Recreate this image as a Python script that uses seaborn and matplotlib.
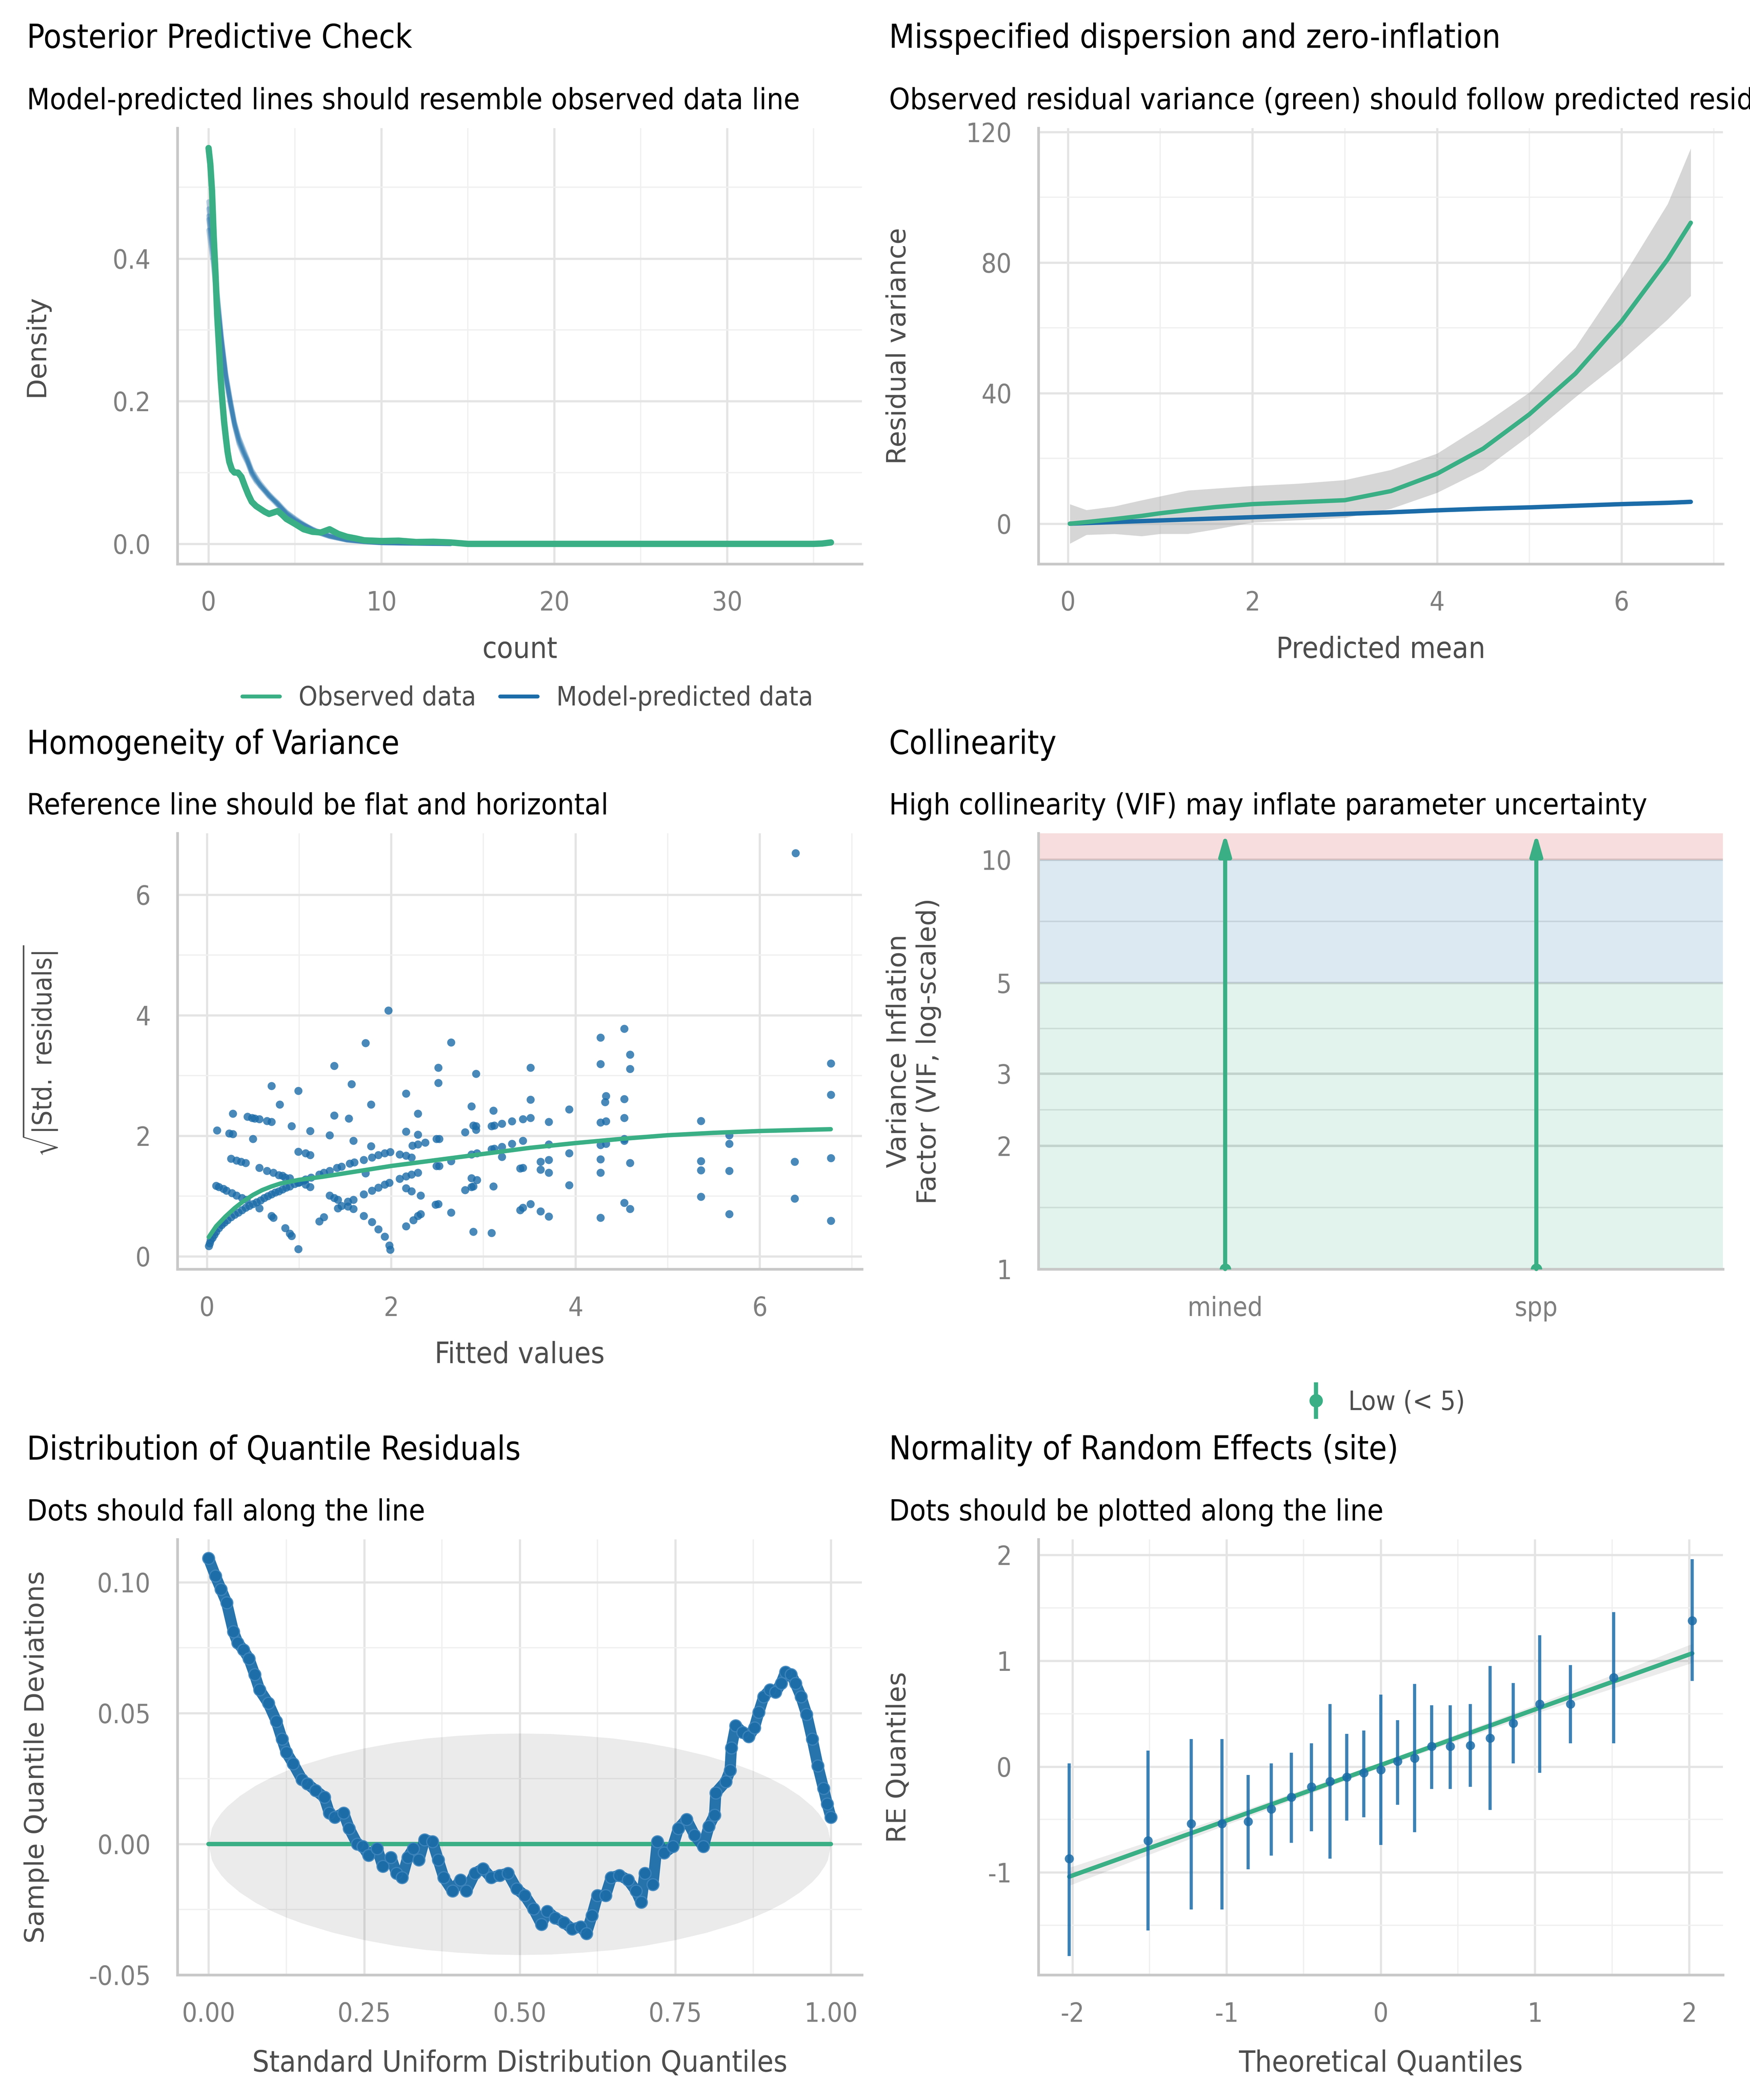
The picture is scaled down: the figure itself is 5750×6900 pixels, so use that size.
import numpy as np
import pandas as pd
import matplotlib
matplotlib.use("Agg")
import matplotlib.pyplot as plt
from matplotlib.lines import Line2D
from matplotlib.legend_handler import HandlerTuple
from matplotlib.ticker import NullFormatter
import seaborn as sns

green = "#3aaf85"
blue = "#1b6ca8"
red = "#cd201f"

# ---- posterior predictive check ----
obs_x = [0, 0.1, 0.2, 0.3, 0.4, 0.5, 0.6, 0.7, 0.8, 0.9, 1.0, 1.1, 1.2, 1.35, 1.5, 1.7, 1.9,
         2.1, 2.3, 2.5, 2.75, 3.0, 3.25, 3.5, 3.75, 4.0, 4.25, 4.5, 5.0, 5.5, 6.0, 6.5, 7.0,
         7.5, 8.0, 8.5, 9.0, 10, 11, 12, 13, 14, 15, 20, 25, 30, 35, 35.5, 36]
obs_dens = [0.555, 0.533, 0.495, 0.43, 0.38, 0.32, 0.277, 0.232, 0.2, 0.171, 0.149, 0.129,
            0.115, 0.104, 0.1, 0.1, 0.094, 0.081, 0.069, 0.059, 0.053, 0.049, 0.045, 0.042,
            0.044, 0.046, 0.041, 0.035, 0.028, 0.0205, 0.017, 0.016, 0.0205, 0.014, 0.010,
            0.0077, 0.005, 0.004, 0.0045, 0.0026, 0.003, 0.002, 0.0, 0.0, 0.0, 0.0, 0.0,
            0.0005, 0.002]
sim_x = [0, 0.25, 0.5, 0.75, 1, 1.25, 1.5, 1.75, 2, 2.25, 2.5, 2.75, 3, 3.5, 4, 4.5, 5, 5.5,
         6, 6.5, 7, 7.5, 8, 9, 10, 11, 12, 13, 14]
sim_a = [0.46, 0.41, 0.345, 0.285, 0.235, 0.2, 0.168, 0.145, 0.13, 0.118, 0.1, 0.09, 0.083,
         0.068, 0.056, 0.043, 0.034, 0.027, 0.02, 0.015, 0.011, 0.008, 0.0055, 0.003, 0.0015,
         0.001, 0.0008, 0.0004, 0.0001]
sim_b = [0.48, 0.43, 0.355, 0.29, 0.24, 0.205, 0.172, 0.15, 0.135, 0.12, 0.104, 0.094, 0.085,
         0.07, 0.058, 0.045, 0.036, 0.028, 0.021, 0.016, 0.012, 0.009, 0.006, 0.0035, 0.002,
         0.0012, 0.0009, 0.0005, 0.0002]
sim_c = [0.44, 0.395, 0.335, 0.28, 0.23, 0.195, 0.165, 0.14, 0.125, 0.113, 0.097, 0.087, 0.08,
         0.066, 0.054, 0.041, 0.032, 0.026, 0.019, 0.014, 0.01, 0.0075, 0.005, 0.0028, 0.0013,
         0.0009, 0.0006, 0.0003, 0.0001]
sim_d = [0.47, 0.42, 0.35, 0.29, 0.238, 0.202, 0.17, 0.148, 0.132, 0.116, 0.102, 0.092, 0.081,
         0.069, 0.055, 0.044, 0.035, 0.026, 0.021, 0.015, 0.011, 0.0085, 0.0058, 0.0032,
         0.0016, 0.0011, 0.0007, 0.0004, 0.0001]
sim_e = [0.455, 0.405, 0.34, 0.283, 0.233, 0.198, 0.166, 0.143, 0.128, 0.115, 0.099, 0.089,
         0.082, 0.067, 0.057, 0.042, 0.033, 0.027, 0.02, 0.0145, 0.0105, 0.0078, 0.0052,
         0.003, 0.0014, 0.001, 0.0007, 0.0003, 0.0001]

# ---- dispersion ----
pm_x = [0.02, 0.2, 0.5, 0.8, 1.0, 1.3, 1.6, 2.0, 2.5, 3.0, 3.5, 4.0, 4.5, 5.0, 5.5, 6.0, 6.5, 6.75]
obs_var = [0.0, 0.5, 1.4, 2.4, 3.2, 4.2, 5.1, 6.0, 6.6, 7.2, 10.0, 15.3, 23.0, 33.5, 46.0, 62.0, 81.0, 92.2]
obs_hi = [6.0, 4.2, 5.3, 7.2, 8.4, 10.2, 10.8, 11.6, 12.3, 13.4, 16.5, 21.5, 30.4, 40.2, 54.0, 75.0, 98.0, 115.0]
obs_lo = [-6.1, -3.4, -3.1, -3.8, -3.1, -3.1, -1.7, 0.4, 1.1, 1.8, 4.6, 9.5, 16.5, 27.0, 38.8, 50.0, 62.6, 69.8]
pred_var = [0.0, 0.2, 0.5, 0.8, 1.0, 1.3, 1.6, 2.0, 2.5, 3.0, 3.5, 4.1, 4.6, 5.0, 5.5, 6.0, 6.4, 6.7]

# ---- homogeneity of variance ----
hov_fitted = [
    0.02, 0.03, 0.04, 0.06, 0.08, 0.10, 0.13, 0.16, 0.19, 0.22, 0.26, 0.30, 0.34, 0.38, 0.42,
    0.46, 0.50, 0.54, 0.58, 0.62, 0.66, 0.70, 0.74, 0.78, 0.82, 0.86, 0.90, 0.95, 1.00, 1.05,
    1.97, 1.72, 2.65, 1.38, 2.51, 2.92, 3.51, 2.51, 0.70, 0.99, 1.57, 0.79, 1.78, 2.16, 3.51,
    2.87, 3.11, 0.28,
    0.44, 0.49, 0.52, 0.57, 0.65, 0.70, 1.38, 1.54, 2.29, 3.43, 3.51, 3.31, 3.20, 3.09, 3.12,
    2.89, 2.92, 2.92, 2.80,
    0.92, 1.12, 0.11, 0.24, 0.28, 0.50, 1.33, 2.16, 2.29, 1.59, 2.49, 2.52, 2.37, 2.23, 2.29,
    1.78, 3.43, 3.31, 3.20, 3.09, 3.12, 2.87, 2.93,
    0.99, 1.07, 1.12, 1.99, 1.93, 1.86, 1.79, 1.70, 1.60, 1.55, 1.46, 1.41, 1.33, 1.27, 1.22,
    1.13, 1.07,
    2.09, 2.16, 2.22, 2.65, 3.20, 2.49, 2.52, 3.40, 3.43,
    0.26, 0.32, 0.37, 0.42, 0.57, 0.65, 0.72, 0.78, 0.82, 0.85, 0.90, 0.99, 1.07, 1.12, 1.72,
    2.09, 2.16, 2.22, 2.29, 1.98, 1.93, 1.86, 1.79, 1.70, 2.16, 2.22, 2.32, 2.87, 2.93, 2.87,
    2.89, 2.80, 3.11,
    0.10, 0.13, 0.18, 0.21, 0.27, 0.32, 0.38, 0.43, 0.57, 1.33, 1.38, 1.42, 1.53, 1.59, 1.46,
    1.42, 1.53, 1.59, 2.48, 2.51, 2.65, 3.40, 3.43, 3.51,
    0.70, 0.72, 1.22, 1.27, 1.70, 1.79, 1.86, 1.93, 1.98, 1.99, 2.16, 2.24, 2.29, 2.32, 0.85,
    0.90, 0.92, 0.99, 2.89, 3.09,
    4.53, 4.27, 4.59, 4.27, 4.59, 6.77, 6.77, 4.33, 4.32, 4.53, 3.93, 3.71, 4.27, 4.33, 4.53,
    5.36, 3.71, 4.27, 4.33, 4.53, 4.53, 5.67, 5.67, 3.93, 3.62, 3.71, 4.27, 4.59, 5.36, 5.36,
    5.67, 6.38, 6.77, 3.62, 3.71, 4.27, 3.93, 5.36, 6.38, 3.62, 3.71, 4.27, 4.53, 4.59, 5.67,
    6.77, 6.39]
hov_resid = [
    0.17, 0.22, 0.27, 0.31, 0.36, 0.41, 0.47, 0.52, 0.56, 0.60, 0.65, 0.69, 0.73, 0.77, 0.81,
    0.84, 0.87, 0.90, 0.93, 0.97, 1.00, 1.03, 1.06, 1.08, 1.11, 1.14, 1.16, 1.20, 1.23, 1.26,
    4.08, 3.54, 3.55, 3.16, 3.13, 3.03, 3.13, 2.88, 2.83, 2.75, 2.86, 2.52, 2.52, 2.70, 2.60,
    2.49, 2.42, 2.37,
    2.32, 2.30, 2.29, 2.28, 2.25, 2.23, 2.34, 2.29, 2.37, 2.28, 2.30, 2.24, 2.20, 2.16, 2.17,
    2.17, 2.16, 2.10, 2.06,
    2.16, 2.08, 2.09, 2.04, 2.03, 1.95, 2.01, 2.07, 2.02, 1.92, 1.95, 1.95, 1.89, 1.84, 1.86,
    1.83, 1.92, 1.87, 1.82, 1.78, 1.79, 1.69, 1.71,
    1.74, 1.71, 1.68, 1.73, 1.71, 1.68, 1.64, 1.60, 1.56, 1.54, 1.49, 1.47, 1.42, 1.39, 1.36,
    1.31, 1.28,
    1.69, 1.67, 1.64, 1.58, 1.65, 1.50, 1.50, 1.46, 1.47,
    1.62, 1.59, 1.57, 1.55, 1.47, 1.42, 1.39, 1.35, 1.34, 1.31, 1.30, 1.22, 1.19, 1.15, 1.38,
    1.29, 1.33, 1.36, 1.39, 1.22, 1.19, 1.14, 1.09, 1.03, 1.13, 1.08, 1.01, 1.30, 1.27, 1.15,
    1.16, 1.10, 1.16,
    1.17, 1.15, 1.12, 1.09, 1.05, 1.01, 0.97, 0.94, 0.80, 1.01, 0.97, 0.94, 0.91, 0.94, 0.84,
    0.80, 0.83, 0.79, 0.86, 0.87, 0.73, 0.77, 0.81, 0.87,
    0.67, 0.64, 0.58, 0.65, 0.67, 0.57, 0.45, 0.33, 0.18, 0.11, 0.50, 0.60, 0.67, 0.70, 0.47,
    0.38, 0.34, 0.12, 0.41, 0.39,
    3.78, 3.63, 3.35, 3.19, 3.11, 3.20, 2.68, 2.66, 2.56, 2.61, 2.44, 2.23, 2.22, 2.24, 2.30,
    2.25, 1.86, 1.85, 1.87, 1.95, 1.92, 2.01, 1.87, 1.71, 1.57, 1.60, 1.61, 1.55, 1.58, 1.43,
    1.42, 1.57, 1.63, 1.44, 1.39, 1.39, 1.18, 0.99, 0.96, 0.75, 0.66, 0.64, 0.89, 0.79, 0.70,
    0.59, 6.69]
smooth_x = [0.02, 0.1, 0.2, 0.3, 0.4, 0.5, 0.6, 0.7, 0.8, 0.9, 1.0, 1.25, 1.5, 1.75, 2.0, 2.5,
            3.0, 3.5, 4.0, 4.5, 5.0, 5.5, 6.0, 6.5, 6.77]
smooth_y = [0.32, 0.5, 0.66, 0.8, 0.92, 1.02, 1.1, 1.16, 1.21, 1.24, 1.27, 1.32, 1.38, 1.44,
            1.5, 1.6, 1.7, 1.8, 1.88, 1.95, 2.01, 2.05, 2.08, 2.1, 2.11]

# ---- collinearity ----
vif_terms = ["mined", "spp"]
vif_values = [1.0, 1.0]
vif_ci_high = [np.inf, np.inf]

# ---- quantile residuals ----
qr_x = [0.000, 0.011, 0.020, 0.029, 0.040, 0.047, 0.056, 0.065, 0.074, 0.082, 0.096, 0.109,
        0.118, 0.125, 0.136, 0.150, 0.159, 0.172, 0.186, 0.194, 0.203, 0.217, 0.226, 0.239,
        0.248, 0.257, 0.271, 0.280, 0.293, 0.302, 0.311, 0.320, 0.329, 0.338, 0.347, 0.360,
        0.369, 0.378, 0.392, 0.405, 0.414, 0.428, 0.441, 0.454, 0.468, 0.481, 0.495, 0.508,
        0.522, 0.535, 0.544, 0.557, 0.571, 0.584, 0.598, 0.607, 0.616, 0.625, 0.638, 0.647,
        0.660, 0.674, 0.687, 0.695, 0.701, 0.714, 0.721, 0.732, 0.746, 0.755, 0.768, 0.781,
        0.795, 0.804, 0.813, 0.815, 0.831, 0.838, 0.840, 0.847, 0.858, 0.868, 0.877, 0.884,
        0.892, 0.902, 0.911, 0.920, 0.927, 0.936, 0.943, 0.952, 0.961, 0.970, 0.979, 0.988,
        0.994, 1.000]
qr_y = [0.1092, 0.1024, 0.0973, 0.0922, 0.0811, 0.0768, 0.0742, 0.0708, 0.0648, 0.0589,
        0.0538, 0.0469, 0.0401, 0.0350, 0.0307, 0.0247, 0.0230, 0.0205, 0.0179, 0.0119,
        0.0102, 0.0119, 0.0060, 0.0000, -0.0009, -0.0043, -0.0017, -0.0085, -0.0051, -0.0111,
        -0.0128, -0.0051, -0.0017, -0.0060, 0.0017, 0.0009, -0.0060, -0.0128, -0.0179,
        -0.0137, -0.0179, -0.0111, -0.0094, -0.0128, -0.0119, -0.0111, -0.0171, -0.0196,
        -0.0247, -0.0307, -0.0256, -0.0282, -0.0299, -0.0324, -0.0316, -0.0341, -0.0273,
        -0.0196, -0.0196, -0.0128, -0.0119, -0.0137, -0.0179, -0.0222, -0.0111, -0.0154,
        0.0009, -0.0034, -0.0009, 0.0060, 0.0094, 0.0034, -0.0009, 0.0068, 0.0111, 0.0196,
        0.0239, 0.0282, 0.0367, 0.0452, 0.0427, 0.0410, 0.0444, 0.0503, 0.0563, 0.0589,
        0.0580, 0.0614, 0.0657, 0.0648, 0.0614, 0.0563, 0.0495, 0.0401, 0.0299, 0.0213,
        0.0154, 0.0102]
band_p = [0, 0.005, 0.01, 0.02, 0.03, 0.05, 0.075, 0.1, 0.125, 0.15, 0.2, 0.25, 0.3, 0.35,
          0.4, 0.45, 0.5, 0.55, 0.6, 0.65, 0.7, 0.75, 0.8, 0.85, 0.875, 0.9, 0.925, 0.95,
          0.97, 0.98, 0.99, 0.995, 1]
band_half = [0, 0.006, 0.0084, 0.0118, 0.0144, 0.0184, 0.0223, 0.0254, 0.028, 0.0302, 0.0338,
             0.0366, 0.0388, 0.0404, 0.0414, 0.0421, 0.0423, 0.0421, 0.0414, 0.0404, 0.0388,
             0.0366, 0.0338, 0.0302, 0.028, 0.0254, 0.0223, 0.0184, 0.0144, 0.0118, 0.0084,
             0.006, 0]

# ---- random effects ----
re_theo = [-2.02, -1.51, -1.23, -1.03, -0.86, -0.71, -0.58, -0.45, -0.33, -0.22, -0.11, 0.0,
           0.11, 0.22, 0.33, 0.45, 0.58, 0.71, 0.86, 1.03, 1.23, 1.51, 2.02]
re_est = [-0.87, -0.70, -0.54, -0.54, -0.52, -0.40, -0.29, -0.19, -0.14, -0.10, -0.06, -0.03,
          0.05, 0.08, 0.19, 0.19, 0.20, 0.27, 0.41, 0.59, 0.59, 0.84, 1.38]
re_hi = [0.03, 0.15, 0.26, 0.26, -0.08, 0.03, 0.13, 0.22, 0.59, 0.31, 0.34, 0.68, 0.44, 0.78,
         0.58, 0.58, 0.59, 0.95, 0.79, 1.24, 0.96, 1.46, 1.96]
re_lo = [-1.79, -1.55, -1.35, -1.35, -0.97, -0.84, -0.72, -0.61, -0.87, -0.51, -0.48, -0.74,
         -0.36, -0.62, -0.21, -0.21, -0.19, -0.41, 0.03, -0.06, 0.22, 0.22, 0.81]
qq_x = [-2.02, -1.0, 0.0, 1.0, 2.02]
qq_y = [-1.04, -0.51, 0.015, 0.54, 1.07]
qq_half = [0.085, 0.04, 0.025, 0.04, 0.09]

titles = [
    ("Posterior Predictive Check", "Model-predicted lines should resemble observed data line"),
    ("Misspecified dispersion and zero-inflation",
     "Observed residual variance (green) should follow predicted residual variance (blue)"),
    ("Homogeneity of Variance", "Reference line should be flat and horizontal"),
    ("Collinearity", "High collinearity (VIF) may inflate parameter uncertainty"),
    ("Distribution of Quantile Residuals", "Dots should fall along the line"),
    ("Normality of Random Effects (site)", "Dots should be plotted along the line"),
]

sns.set_theme(style="whitegrid")
plt.rcParams["font.family"] = ["DejaVu Sans"]
plt.rcParams["font.stretch"] = "condensed"
plt.rcParams["axes.unicode_minus"] = False
plt.rcParams["mathtext.fontset"] = "dejavusans"

fig = plt.figure(figsize=(10, 12), dpi=575)
fig.patch.set_facecolor("white")
col_x = [0.1014, 0.5934]
row_y = [0.7315, 0.3957, 0.0595]
aw, ah = 0.3912, 0.2075
title_x = [0.0153, 0.508]
title_y = [0.9772, 0.641, 0.305]
sub_y = [0.9479, 0.6122, 0.276]

axes = []
for r in range(3):
    for c in range(2):
        axes.append(fig.add_axes([col_x[c], row_y[r], aw, ah]))
        t, s = titles[r * 2 + c]
        fig.text(title_x[c], title_y[r], t, fontsize=13.5, color="black", va="baseline")
        fig.text(title_x[c], sub_y[r], s, fontsize=12.2, color="black", va="baseline")


def style(ax, xmaj, xmin, ymaj, ymin, xlab, ylab, ylab_x=-0.187):
    ax.set_facecolor("white")
    ax.set_axisbelow(True)
    if xmaj is not None:
        ax.set_xticks(xmaj)
        ax.set_xticks(xmin, minor=True)
    ax.set_yticks(ymaj)
    ax.set_yticks(ymin, minor=True)
    ax.grid(which="major", color="#e4e4e4", lw=0.9)
    ax.grid(which="minor", color="#f0f0f0", lw=0.55)
    ax.tick_params(which="both", length=0, pad=11, labelsize=11, labelcolor="#7f7f7f")
    for s in ["top", "right"]:
        ax.spines[s].set_visible(False)
    for s in ["left", "bottom"]:
        ax.spines[s].set_color("#c8c8c8")
        ax.spines[s].set_linewidth(1.1)
    ax.set_xlabel(xlab, fontsize=12.2, color="#4d4d4d")
    ax.xaxis.set_label_coords(0.5, -0.165)
    ax.set_ylabel(ylab, fontsize=11, color="#4d4d4d", fontstretch="normal")
    ax.yaxis.set_label_coords(ylab_x, 0.5)


# panel 1
ax = axes[0]
for sim in [sim_a, sim_b, sim_c, sim_d, sim_e]:
    sns.lineplot(x=sim_x, y=sim, ax=ax, color=blue, alpha=0.3, lw=1.9)
sns.lineplot(x=obs_x, y=obs_dens, ax=ax, color=green, lw=2.6)
ax.set_xlim(-1.8, 37.8)
ax.set_ylim(-0.028, 0.583)
style(ax, [0, 10, 20, 30], [5, 15, 25, 35], [0.0, 0.2, 0.4], [0.1, 0.3, 0.5], "count", "Density")
ax.set_yticks([0.0, 0.2, 0.4], ["0.0", "0.2", "0.4"])
leg_handles = [Line2D([], [], color=green, lw=1.6), Line2D([], [], color=blue, lw=1.6)]
fig.legend(leg_handles, ["Observed data", "Model-predicted data"], loc="center",
           bbox_to_anchor=(0.3015, 0.6675), ncol=2, frameon=False, fontsize=11,
           handlelength=1.4, columnspacing=0.9, handletextpad=0.7, labelcolor="#4d4d4d")

# panel 2
ax = axes[1]
ax.fill_between(pm_x, obs_lo, obs_hi, color="#999999", alpha=0.4, lw=0)
sns.lineplot(x=pm_x, y=pred_var, ax=ax, color=blue, lw=1.8)
sns.lineplot(x=pm_x, y=obs_var, ax=ax, color=green, lw=1.8)
ax.set_xlim(-0.32, 7.1)
ax.set_ylim(-12.3, 121.2)
style(ax, [0, 2, 4, 6], [1, 3, 5, 7], [0, 40, 80, 120], [20, 60, 100], "Predicted mean",
      "Residual variance", -0.186)

# panel 3
ax = axes[2]
sns.scatterplot(x=hov_fitted, y=hov_resid, ax=ax, color=blue, alpha=0.8, s=11, linewidth=0)
sns.lineplot(x=smooth_x, y=smooth_y, ax=ax, color=green, lw=1.8)
ax.set_xlim(-0.32, 7.11)
ax.set_ylim(-0.21, 7.02)
style(ax, [0, 2, 4, 6], [1, 3, 5, 7], [0, 2, 4, 6], [1, 3, 5], "Fitted values",
      r"$\sqrt{|\mathrm{Std.\ residuals}|}$", -0.173)

# panel 4
ax = axes[3]
ax.set_yscale("log")
ax.set_xlim(-0.6, 1.6)
ax.set_ylim(1, 11.6)
top = ax.get_ylim()[1]
ax.axhspan(1, 5, color=green, alpha=0.15, lw=0)
ax.axhspan(5, 10, color=blue, alpha=0.15, lw=0)
ax.axhspan(10, top, color=red, alpha=0.15, lw=0)
pos = list(range(len(vif_terms)))
for xi, lo, hi in zip(pos, vif_values, vif_ci_high):
    ax.annotate("", xy=(xi, min(hi, top)), xytext=(xi, lo),
                arrowprops=dict(arrowstyle="-|>,head_length=0.6,head_width=0.17", color=green,
                                lw=1.7, shrinkA=0, shrinkB=0))
sns.scatterplot(x=pos, y=vif_values, ax=ax, color=green, s=22, linewidth=0, zorder=5)
style(ax, None, None, [1, 2, 3, 5, 10], [1.414, 2.449, 3.873, 7.071], "",
      "Variance Inflation\nFactor (VIF, log-scaled)", -0.142)
ax.set_xticks(pos, vif_terms)
ax.set_yticks([1, 2, 3, 5, 10], ["1", "2", "3", "5", "10"])
ax.yaxis.set_minor_formatter(NullFormatter())
ax.xaxis.grid(False, which="both")
ax.grid(axis="y", which="major", color="#dadada", lw=1.0)
ax.grid(axis="y", which="minor", color="#e6e6e6", lw=0.6)
ax.set_xlim(-0.6, 1.6)
ax.set_ylim(1, 11.6)
vif_handle = (Line2D([], [], color=green, marker="|", markersize=15, mew=1.7, linestyle="None"),
              Line2D([], [], color=green, marker="o", markersize=4.5, linestyle="None"))
fig.legend([vif_handle], ["Low (< 5)"], handler_map={tuple: HandlerTuple(ndivide=1)},
           loc="center", bbox_to_anchor=(0.79, 0.332), frameon=False, fontsize=11,
           handlelength=1.2, handletextpad=0.6, labelcolor="#4d4d4d")

# panel 5
ax = axes[4]
ax.fill_between(band_p, [-h for h in band_half], band_half, color="black", alpha=0.08, lw=0)
sns.lineplot(x=[0, 1], y=[0, 0], ax=ax, color=green, lw=1.8)
ax.plot(qr_x, qr_y, color=blue, lw=4.6, alpha=0.95, solid_capstyle="round",
        solid_joinstyle="round", zorder=3)
sns.scatterplot(x=qr_x, y=qr_y, ax=ax, color=blue, alpha=0.85, s=24, linewidth=0.5,
                edgecolor="#3f86bd", zorder=4)
ax.set_xlim(-0.05, 1.05)
ax.set_ylim(-0.05, 0.1164)
style(ax, [0, 0.25, 0.5, 0.75, 1.0], [0.125, 0.375, 0.625, 0.875], [-0.05, 0, 0.05, 0.10],
      [-0.025, 0.025, 0.075], "Standard Uniform Distribution Quantiles",
      "Sample Quantile Deviations")
ax.set_xticks([0, 0.25, 0.5, 0.75, 1.0], ["0.00", "0.25", "0.50", "0.75", "1.00"])
ax.set_yticks([-0.05, 0, 0.05, 0.10], ["-0.05", "0.00", "0.05", "0.10"])
ax.xaxis.set_label_coords(0.5, -0.171)

# panel 6
ax = axes[5]
ax.fill_between(qq_x, [y - h for y, h in zip(qq_y, qq_half)],
                [y + h for y, h in zip(qq_y, qq_half)], color="black", alpha=0.08, lw=0)
sns.lineplot(x=qq_x, y=qq_y, ax=ax, color=green, lw=1.8)
ax.vlines(re_theo, re_lo, re_hi, color=blue, alpha=0.85, lw=1.3, zorder=3)
sns.scatterplot(x=re_theo, y=re_est, ax=ax, color=blue, alpha=0.85, s=14, linewidth=0, zorder=4)
ax.set_xlim(-2.22, 2.22)
ax.set_ylim(-1.97, 2.148)
style(ax, [-2, -1, 0, 1, 2], [-1.5, -0.5, 0.5, 1.5], [-1, 0, 1, 2], [-1.5, -0.5, 0.5, 1.5],
      "Theoretical Quantiles", "RE Quantiles", -0.186)
ax.set_xticks([-2, -1, 0, 1, 2], ["-2", "-1", "0", "1", "2"])
ax.set_yticks([-1, 0, 1, 2], ["-1", "0", "1", "2"])
ax.xaxis.set_label_coords(0.5, -0.171)

fig.savefig("out.png", dpi=575, facecolor="white")
